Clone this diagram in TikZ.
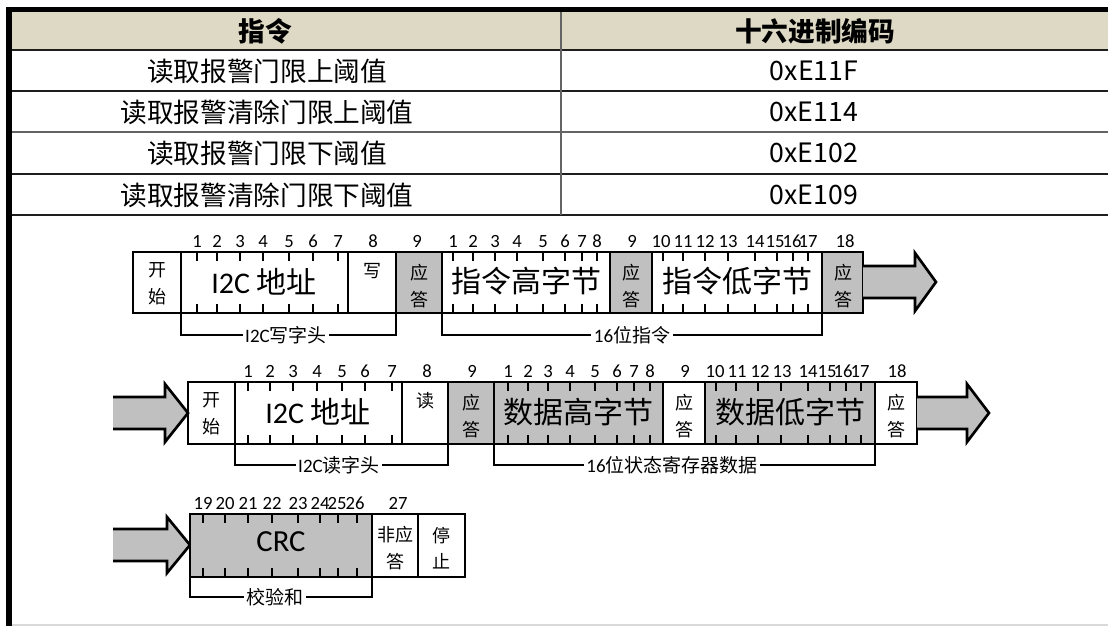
\documentclass[tikz,border=0pt]{standalone}
\usepackage{fontspec}
\setmainfont{Carlito}
\newfontfamily\cjk{Noto Sans CJK SC}
\usetikzlibrary{fit}
\definecolor{hdr}{RGB}{221,217,196}
\definecolor{gbox}{RGB}{192,192,192}
\definecolor{tline}{RGB}{30,30,30}
\definecolor{tgray}{RGB}{100,100,100}
\begin{document}
\begin{tikzpicture}[x=0.75pt,y=-0.75pt,
  box/.style={draw=black,line width=2pt,inner sep=0pt,outer sep=0pt},
  graybox/.style={box,fill=gbox},
  tickln/.style={line width=1.5pt},
  brk/.style={line width=1.5pt},
  num/.style={font=\fontsize{14}{16}\selectfont,anchor=base,inner sep=0pt},
  big/.style={font=\cjk\fontsize{22.5}{26}\selectfont,inner sep=0pt},
  small/.style={font=\cjk\fontsize{13.5}{20}\selectfont,align=center,inner sep=0pt},
  blab/.style={font=\fontsize{14.25}{16}\selectfont,fill=white,inner sep=2pt},
  tab/.style={font=\cjk\fontsize{20}{24}\selectfont,inner sep=0pt},
  tabh/.style={font=\cjk\bfseries\fontsize{20}{24}\selectfont,inner sep=0pt},
  barrow/.style={fill=gbox},
  bedge/.style={line width=2pt,line join=miter}
]
\useasboundingbox (0,0) rectangle (1108,626);
% ---------- table ----------
\fill[hdr] (12,12) rectangle (1108,50);
\fill[black] (6,7) rectangle (1108,12);
\fill[black] (6,7) rectangle (12,626);
\draw[black!15,line width=1.2pt] (12,625) -- (1108,625);
\draw[tline,line width=1.5pt] (12,50) -- (1108,50);
\draw[tline,line width=1.5pt] (12,91) -- (1108,91);
\draw[tgray,line width=1.5pt] (12,132) -- (1108,132);
\draw[tline,line width=1.5pt] (12,174) -- (1108,174);
\draw[tline,line width=1.5pt] (12,215) -- (1108,215);
\draw[tgray,line width=1.5pt] (561,12) -- (561,215);
\node[tabh] (h1) at (265,31) {指令};
\node[tabh] (h2) at (815,31) {十六进制编码};
\node[tab] (c11) at (267,71) {读取报警门限上阈值};
\node[tab] (c12) at (814,71) {0xE11F};
\node[tab] (c21) at (267,112) {读取报警清除门限上阈值};
\node[tab] (c22) at (814,112) {0xE114};
\node[tab] (c31) at (267,153) {读取报警门限下阈值};
\node[tab] (c32) at (814,153) {0xE102};
\node[tab] (c41) at (267,195) {读取报警清除门限下阈值};
\node[tab] (c42) at (814,195) {0xE109};
% ---------- row 1 ----------
\node[box,fit={(133,252)(181,313)}] (st1) {};
\node[box,fit={(181,252)(348,313)}] (ad1) {};
\node[box,fit={(348,252)(396,313)}] (w1) {};
\node[graybox,fit={(396,252)(442,313)}] (k1) {};
\node[box,fit={(442,252)(610,313)}] (hi1) {};
\node[graybox,fit={(610,252)(652,313)}] (k2) {};
\node[box,fit={(652,252)(822,313)}] (lo1) {};
\node[graybox,fit={(822,252)(863,313)}] (k3) {};
\fill[barrow] (863,266) -- (915,266) -- (915,253) -- (936,282) -- (915,311) -- (915,298) -- (863,298) -- cycle;
\draw[bedge] (863,266) -- (915,266) -- (915,253) -- (936,282) -- (915,311) -- (915,298) -- (863,298);
\foreach \x in {197,217,240,263,289,313,338,453,473,495,517,543,565,582,597,663,683,705,728,755,777,793,808}{
  \draw[tickln] (\x,252) -- (\x,261);
  \draw[tickln] (\x,313) -- (\x,304);
}
\foreach \x/\t [count=\i] in {197/1,217/2,240/3,263/4,289/5,313/6,338/7,373/8,417/9,453/1,473/2,495/3,517/4,543/5,565/6,582/7,597/8,632/9,661/10,683/11,705/12,728/13,755/14,775/15,792/16,808/17,845/18}{
  \node[num] (a\i) at (\x,247) {\t};
}
\node[small] (t1) at (157,284) {开\\始};
\node[big] (t2) at (264,282) {\fontspec{Carlito}I2C\cjk{} 地址};
\node[small] (t3) at (372,271) {写};
\node[small] (t4) at (419,286) {应\\答};
\node[big] (t5) at (526,281) {指令高字节};
\node[small] (t6) at (631,286) {应\\答};
\node[big] (t7) at (737,281) {指令低字节};
\node[small] (t8) at (843,286) {应\\答};
\draw[brk] (ad1.south west) -- (181,335) -- (396,335) -- (w1.south east);
\draw[brk] (hi1.south west) -- (442,335) -- (822,335) -- (lo1.south east);
\node[blab] (b1) at (286,335) {I2C\cjk 写字头};
\node[blab] (b2) at (632,335) {16\cjk 位指令};
% ---------- row 2 ----------
\fill[barrow] (113,397) -- (165,397) -- (165,384) -- (188,413) -- (165,442) -- (165,429) -- (113,429) -- cycle;
\draw[bedge] (113,397) -- (165,397) -- (165,384) -- (188,413) -- (165,442) -- (165,429) -- (113,429);
\node[box,fit={(188,382)(235,444)}] (st2) {};
\node[box,fit={(235,382)(402,444)}] (ad2) {};
\node[box,fit={(402,382)(448,444)}] (r2) {};
\node[graybox,fit={(448,382)(494,444)}] (k4) {};
\node[graybox,fit={(494,382)(663,444)}] (hi2) {};
\node[box,fit={(663,382)(705,444)}] (k5) {};
\node[graybox,fit={(705,382)(875,444)}] (lo2) {};
\node[box,fit={(875,382)(917,444)}] (k6) {};
\fill[barrow] (917,397) -- (967,397) -- (967,384) -- (989,413) -- (967,442) -- (967,429) -- (917,429) -- cycle;
\draw[bedge] (917,397) -- (967,397) -- (967,384) -- (989,413) -- (967,442) -- (967,429) -- (917,429);
\foreach \x in {248,270,293,317,342,365,392,508,528,548,570,595,617,634,650,716,736,758,781,808,830,846,861}{
  \draw[tickln] (\x,382) -- (\x,391);
  \draw[tickln] (\x,444) -- (\x,435);
}
\foreach \x/\t [count=\i] in {248/1,270/2,293/3,317/4,342/5,365/6,392/7,427/8,472/9,508/1,528/2,548/3,570/4,595/5,617/6,634/7,650/8,685/9,715/10,737/11,760/12,782/13,808/14,827/15,843/16,860/17,897/18}{
  \node[num] (b\i) at (\x,377) {\t};
}
\node[small] (u1) at (211,414) {开\\始};
\node[big] (u2) at (318,412) {\fontspec{Carlito}I2C\cjk{} 地址};
\node[small] (u3) at (425,401) {读};
\node[small] (u4) at (471,416) {应\\答};
\node[big] (u5) at (578,412) {数据高字节};
\node[small] (u6) at (684,416) {应\\答};
\node[big] (u7) at (790,412) {数据低字节};
\node[small] (u8) at (896,416) {应\\答};
\draw[brk] (ad2.south west) -- (235,465) -- (448,465) -- (r2.south east);
\draw[brk] (hi2.south west) -- (494,465) -- (875,465) -- (lo2.south east);
\node[blab] (b3) at (339,465) {I2C\cjk 读字头};
\node[blab] (b4) at (672,465) {16\cjk 位状态寄存器数据};
% ---------- row 3 ----------
\fill[barrow] (113,529) -- (167,529) -- (167,517) -- (190,545) -- (167,573) -- (167,561) -- (113,561) -- cycle;
\draw[bedge] (113,529) -- (167,529) -- (167,517) -- (190,545) -- (167,573) -- (167,561) -- (113,561);
\node[graybox,fit={(190,514)(372,577)}] (crc) {};
\node[box,fit={(372,514)(418,577)}] (na) {};
\node[box,fit={(418,514)(465,577)}] (sp) {};
\foreach \x in {203,225,248,272,298,320,338,357}{
  \draw[tickln] (\x,514) -- (\x,523);
  \draw[tickln] (\x,577) -- (\x,568);
}
\foreach \x/\t [count=\i] in {203/19,225/20,248/21,272/22,298/23,320/24,337/25,355/26,398/27}{
  \node[num] (c\i) at (\x,509) {\t};
}
\node[inner sep=0pt,font=\fontsize{23}{26}\selectfont] (v1) at (281,542) {CRC};
\node[small] (v2) at (395,548) {非应\\答};
\node[small] (v3) at (441,548) {停\\止};
\draw[brk] (crc.south west) -- (190,597) -- (372,597) -- (crc.south east);
\node[blab] (b5) at (275,597) {\cjk 校验和};
\end{tikzpicture}
\end{document}
